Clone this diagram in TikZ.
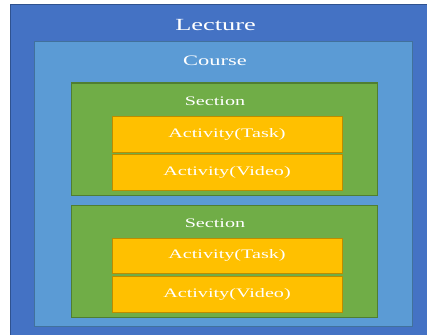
\documentclass[tikz,border=0pt]{standalone}
\usepackage{fontspec}
\setmainfont[FakeStretch=1.55]{Liberation Serif}
\definecolor{lecblue}{HTML}{4472C4}
\definecolor{lecline}{HTML}{2F528F}
\definecolor{crsblue}{HTML}{5B9BD5}
\definecolor{crsline}{HTML}{41719C}
\definecolor{secgreen}{HTML}{70AD47}
\definecolor{secline}{HTML}{507E32}
\definecolor{actgold}{HTML}{FFC000}
\definecolor{actline}{HTML}{BC8C00}
\tikzset{
	box/.style={draw,line width=1pt,inner sep=0pt,text=white},
	lecbox/.style={box,fill=lecblue,draw=lecline},
	crsbox/.style={box,fill=crsblue,draw=crsline},
	secbox/.style={box,fill=secgreen,draw=secline,minimum width=306pt,minimum height=112pt},
	actbox/.style={box,fill=actgold,draw=actline,minimum width=230pt,minimum height=36pt,font=\fontsize{13}{15}\selectfont},
	title/.style={text=white,inner sep=0pt}
}
\begin{document}
\begin{tikzpicture}[x=1pt,y=-1pt]
		\useasboundingbox (0,0) rectangle (427,334);
		\clip (0,0) rectangle (427,334);
		\node[lecbox,minimum width=420pt,minimum height=332pt] (lecture) at (220,171) {};
		\node[crsbox,minimum width=378pt,minimum height=284pt] (course) at (223,184) {};
		\node[secbox] (sec1) at (224,139) {};
		\node[secbox] (sec2) at (224,261) {};
		\node[actbox] (task1) at (227,134) {Activity(Task)};
		\node[actbox] (video1) at (227,172) {Activity(Video)};
		\node[actbox,minimum height=35pt] (task2) at (227,255.5) {Activity(Task)};
		\node[actbox] (video2) at (227,294) {Activity(Video)};
		\node[title,font=\fontsize{17}{20}\selectfont] (lectitle) at (215.5,25) {Lecture};
		\node[title,font=\fontsize{14.5}{17}\selectfont] (crstitle) at (215,61) {Course};
		\node[title,font=\fontsize{13}{15}\selectfont] (sectitle1) at (215,101) {Section};
		\node[title,font=\fontsize{13}{15}\selectfont] (sectitle2) at (215,223) {Section};
\end{tikzpicture}
\end{document}
